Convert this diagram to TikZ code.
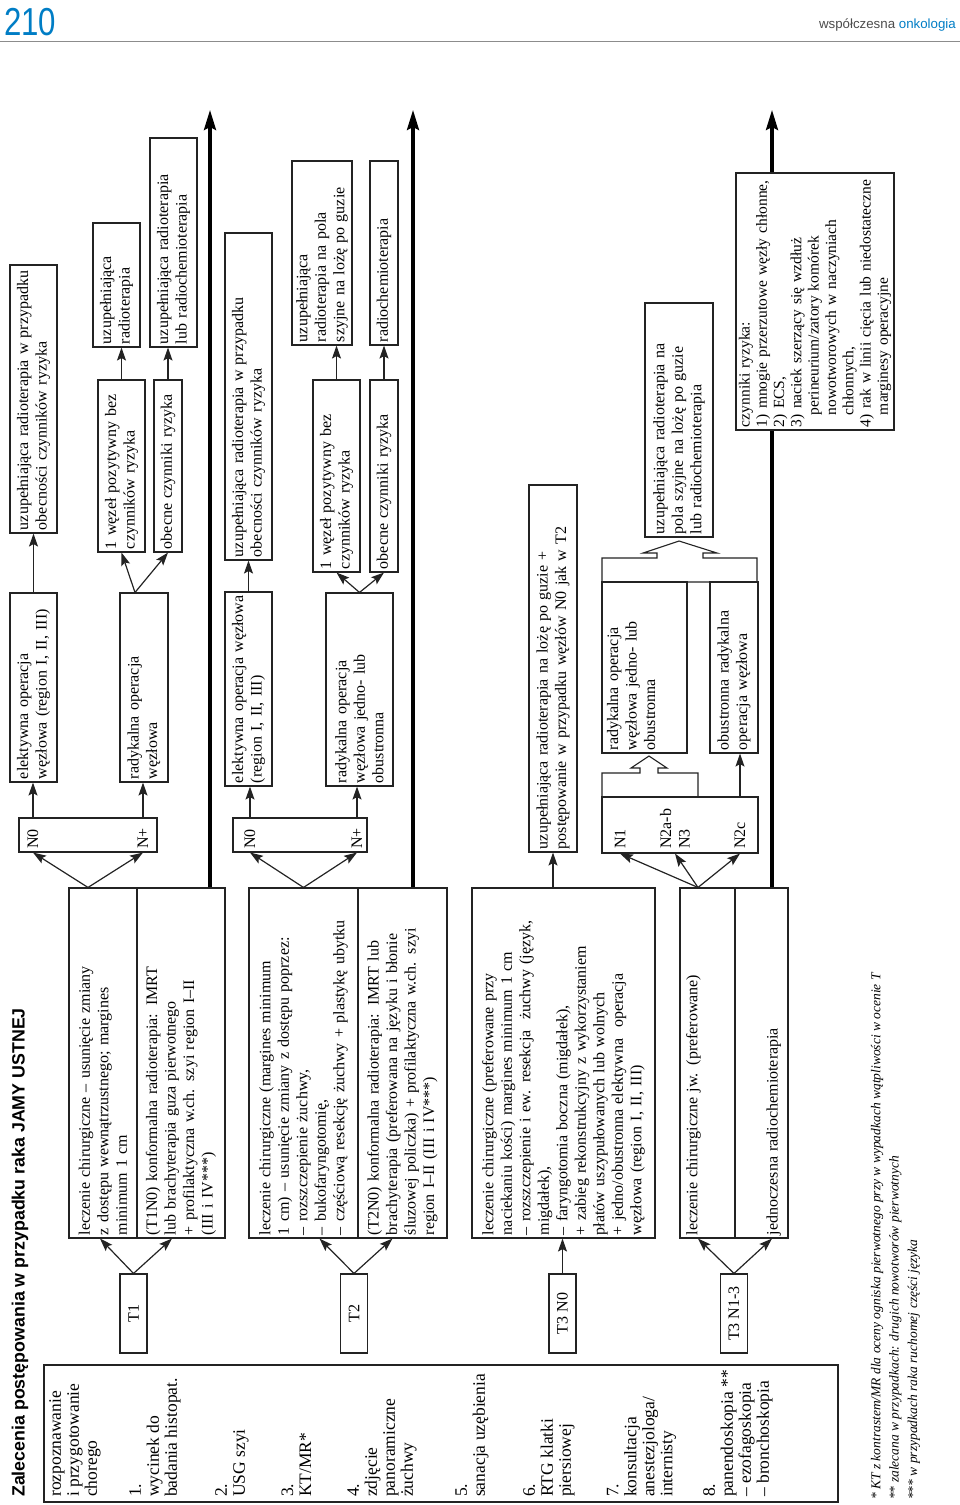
\documentclass[tikz,border=0pt]{standalone}
\usepackage{fontspec}
\setmainfont{Liberation Serif}
\newfontfamily\headsans{Liberation Sans}
\usetikzlibrary{arrows.meta}
\definecolor{onkoblue}{RGB}{0,125,197}
\definecolor{lineblack}{RGB}{35,35,35}
\newcommand{\boxfont}{\fontsize{16}{18.5}\selectfont}
\newcommand{\stepfont}{\fontsize{17.5}{18}\selectfont}

\tikzset{
  box/.style={draw=lineblack, line width=1.1pt, rotate=90, align=left,
    inner xsep=3pt, inner ysep=1pt, font=\boxfont},
  tbox/.style={box, align=center, minimum width=79pt, minimum height=27pt},
  nframe/.style={draw=lineblack, line width=1.1pt, inner sep=0pt},
  nlbl/.style={rotate=90, anchor=west, align=left, inner sep=0pt, font=\boxfont},
  stepitem/.style={rotate=90, anchor=west, align=left, inner sep=0pt, font=\stepfont},
  arr/.style={-{Stealth[length=13pt,width=9pt,inset=2.5pt]}, line width=1.2pt, lineblack},
  mainarr/.style={-{Stealth[length=20pt,width=12pt,inset=3pt]}, line width=3.2pt},
}

\begin{document}
\begin{tikzpicture}[x=1pt, y=-1pt]
\useasboundingbox (0,0) rectangle (960,1505);

% header
\node[anchor=south west, inner sep=0pt, xscale=0.8, text=onkoblue, font=\headsans\fontsize{39}{39}\selectfont] (strona) at (4,36) {210};
\node[anchor=south east, inner sep=0pt, font=\headsans\fontsize{13.3}{14}\selectfont] (pismo) at (956,31) {\textcolor{black!70}{współczesna} \textcolor{onkoblue}{onkologia}};
\draw[black!45, line width=0.8pt] (0,41) -- (960,41);

% title and preparation steps
\node[rotate=90, anchor=west, inner sep=0pt, font=\headsans\bfseries\fontsize{17.8}{18}\selectfont] (tytul) at (20,1497) {Zalecenia postępowania w przypadku raka JAMY USTNEJ};
\node[nframe, minimum width=794pt, minimum height=137pt] (przygot) at (441,1433.5) {};
\node[stepitem] (p0) at (75,1497) {rozpoznawanie\\i przygotowanie\\chorego};
\node[stepitem] (p1) at (155,1497) {1.\\wycinek do\\badania histopat.};
\node[stepitem] (p2) at (232,1497) {2.\\USG szyi};
\node[stepitem] (p3) at (296.5,1497) {3.\\KT/MR*};
\node[stepitem] (p4) at (382,1497) {4.\\zdjęcie\\panoramiczne\\żuchwy};
\node[stepitem] (p5) at (472,1497) {5.\\sanacja uzębienia};
\node[stepitem] (p6) at (549,1497) {6.\\RTG klatki\\piersiowej};
\node[stepitem] (p7) at (641.5,1497) {7.\\konsultacja\\anestezjologa/\\internisty};
\node[stepitem] (p8) at (738,1497) {8.\\panendoskopia **\\– ezofagoskopia\\– bronchoskopia};

% T1
\node[tbox] (t1) at (133.5,1313.5) {T1};
\node[box, text width=344pt, minimum height=68pt] (t1sur) at (103,1063) {leczenie chirurgiczne – usunięcie zmiany\\z dostępu wewnątrzustnego; margines\\minimum 1 cm};
\node[box, text width=344pt, minimum height=88pt] (t1rt) at (181,1063) {(T1N0) konformalna radioterapia: IMRT\\lub brachyterapia guza pierwotnego\\+ profilaktyczna w.ch. szyi region I–II\\(III i IV***)};
\node[nframe, minimum width=138pt, minimum height=34pt] (t1n) at (88,835) {};
\node[nlbl] (t1n0) at (33,849) {N0};
\node[nlbl] (t1np) at (143,849) {N+};
\node[box, text width=183pt, minimum height=47pt] (t1el) at (33.5,687.5) {elektywna operacja\\węzłowa (region I, II, III)};
\node[box, text width=183pt, minimum height=48pt] (t1rad) at (144,687.5) {radykalna operacja\\węzłowa};
\node[box, text width=262pt, minimum height=47pt] (t1risk0) at (33.5,399) {uzupełniająca radioterapia w przypadku\\obecności czynników ryzyka};
\node[box, text width=166pt, minimum height=47pt] (t1pos1) at (121.5,466) {1 węzeł pozytywny bez\\czynników ryzyka};
\node[box, text width=166pt, minimum height=28pt] (t1risk) at (168,466) {obecne czynniki ryzyka};
\node[box, text width=118pt, minimum height=47pt] (t1uzr) at (116.5,285) {uzupełniająca\\radioterapia};
\node[box, text width=203pt, minimum height=47pt] (t1uzrc) at (173.5,242.5) {uzupełniająca radioterapia\\lub radiochemioterapia};
\coordinate (t1koniec) at (210,110);

\draw[arr] (t1.east) -- ([xshift=-3pt]t1sur.west);
\draw[arr] (t1.east) -- ([xshift=-9pt]t1rt.west);
\draw[arr] ([xshift=-15pt]t1sur.east) -- (t1n0 |- t1n.south);
\draw[arr] ([xshift=-15pt]t1sur.east) -- (t1np |- t1n.south);
\draw[arr] (t1n0 |- t1n.north) -- (t1n0 |- t1el.west);
\draw[arr] (t1np |- t1n.north) -- (t1np |- t1rad.west);
\draw[arr] (t1el.east) -- (t1risk0.west);
\draw[arr] ([xshift=-9pt]t1rad.east) -- (t1pos1.west);
\draw[arr] ([xshift=-9pt]t1rad.east) -- (t1risk.west);
\draw[arr] (t1pos1.east) -- (t1pos1.east |- t1uzr.west);
\draw[arr] (t1risk.east) -- (t1risk.east |- t1uzrc.west);
\draw[mainarr] ([xshift=29pt]t1rt.east) -- (t1koniec);

% T2
\node[tbox] (t2) at (354,1313.5) {T2};
\node[box, text width=344pt, minimum height=109pt] (t2sur) at (303.5,1063) {leczenie chirurgiczne (margines minimum\\1 cm) – usunięcie zmiany z dostępu poprzez:\\– rozszczepienie żuchwy,\\– bukofaryngotomię,\\– częściową resekcję żuchwy + plastykę ubytku};
\node[box, text width=344pt, minimum height=89pt] (t2rt) at (402.5,1063) {(T2N0) konformalna radioterapia: IMRT lub\\brachyterapia (preferowana na języku i błonie\\śluzowej policzka) + profilaktyczna w.ch. szyi\\region I–II (III i IV***)};
\node[nframe, minimum width=134pt, minimum height=34pt] (t2n) at (300,835) {};
\node[nlbl] (t2n0) at (250,849) {N0};
\node[nlbl] (t2np) at (357,849) {N+};
\node[box, text width=188pt, minimum height=47pt] (t2el) at (248.5,689) {elektywna operacja węzłowa\\(region I, II, III)};
\node[box, text width=187pt, minimum height=67pt] (t2rad) at (359.5,689.5) {radykalna operacja\\węzłowa jedno- lub\\obustronna};
\node[box, text width=321pt, minimum height=47pt] (t2risk0) at (248.5,396.5) {uzupełniająca radioterapia w przypadku\\obecności czynników ryzyka};
\node[box, text width=186pt, minimum height=47pt] (t2pos1) at (336.5,476) {1 węzeł pozytywny bez\\czynników ryzyka};
\node[box, text width=186pt, minimum height=28pt] (t2risk) at (384,476) {obecne czynniki ryzyka};
\node[box, text width=178pt, minimum height=60pt] (t2uzp) at (322,253) {uzupełniająca\\radioterapia na pola\\szyjne na lożę po guzie};
\node[box, text width=178pt, minimum height=28pt] (t2rch) at (384,253) {radiochemioterapia};
\coordinate (t2koniec) at (413,110);

\draw[arr] (t2.east) -- ([xshift=16pt]t2sur.west);
\draw[arr] (t2.east) -- ([xshift=-10pt]t2rt.west);
\draw[arr] (t2sur.east) -- (t2n0 |- t2n.south);
\draw[arr] (t2sur.east) -- (t2np |- t2n.south);
\draw[arr] (t2n0 |- t2n.north) -- (t2n0 |- t2el.west);
\draw[arr] (t2np |- t2n.north) -- (t2np |- t2rad.west);
\draw[arr] (t2el.east) -- (t2risk0.west);
\draw[arr] (t2rad.east) -- (t2pos1.west);
\draw[arr] (t2rad.east) -- (t2risk.west);
\draw[arr] (t2pos1.east) -- (t2pos1.east |- t2uzp.west);
\draw[arr] (t2risk.east) -- (t2rch.west);
\draw[mainarr] ([xshift=10.5pt]t2rt.east) -- (t2koniec);

% T3 N0
\node[tbox] (t3a) at (562.5,1313.5) {T3 N0};
\node[box, text width=344pt, minimum height=183pt] (t3asur) at (563.5,1063) {leczenie chirurgiczne (preferowane przy\\naciekaniu kości) margines minimum 1 cm\\– rozszczepienie i ew. resekcja \ żuchwy (język,\\migdałek),\\– faryngotomia boczna (migdałek),\\+ zabieg rekonstrukcyjny z wykorzystaniem\\płatów uszypułowanych lub wolnych\\+ jedno/obustronna elektywna \ operacja\\węzłowa (region I, II, III)};
\node[box, text width=361pt, minimum height=48pt] (t3aft) at (553,668.5) {uzupełniająca radioterapia na lożę po guzie +\\postępowanie w przypadku węzłów N0 jak w T2};

\draw[arr] (t3a.east) -- (t3a.east |- t3asur.west);
\draw[arr] (t3asur.east -| t3aft) -- (t3aft.west);

% T3 N1-3
\node[tbox] (t3b) at (734,1313.5) {T3 N1-3};
\node[box, text width=344pt, minimum height=55pt] (t3bsur) at (707.5,1063) {\parbox[c][51pt][t]{344pt}{\vspace*{4pt}leczenie chirurgiczne jw. (preferowane)}};
\node[box, text width=344pt, minimum height=53pt] (t3brt) at (761.5,1063) {\parbox[c][49pt][b]{344pt}{jednoczesna radiochemioterapia\par\vspace*{5pt}}};
\node[nframe, minimum width=156pt, minimum height=56pt] (t3n) at (680,825) {};
\node[nlbl] (t3n1) at (620,849) {N1};
\node[nlbl] (t3n2) at (675,849) {N2a-b\\N3};
\node[nlbl] (t3n2c) at (740,849) {N2c};
\node[box, text width=165pt, minimum height=85pt] (t3rad) at (644.5,667.5) {\parbox[c][81pt][t]{165pt}{\vspace*{3pt}radykalna operacja\\węzłowa jedno- lub\\obustronna}};
\node[box, text width=165pt, minimum height=48pt] (t3obu) at (734,667.5) {obustronna radykalna\\operacja węzłowa};
\node[box, text width=228pt, minimum height=68pt] (t3uz) at (679,420) {uzupełniająca radioterapia na\\pola szyjne na lożę po guzie\\lub radiochemioterapia};
\coordinate (t3koniec) at (772,110);

\draw[arr] (t3b.east) -- ([xshift=-9.5pt]t3bsur.west);
\draw[arr] (t3b.east) -- ([xshift=10.5pt]t3brt.west);
\draw[arr] ([xshift=-9.5pt]t3bsur.east) -- (t3n1 |- t3n.south);
\draw[arr] ([xshift=-9.5pt]t3bsur.east) -- (t3n2 |- t3n.south);
\draw[arr] ([xshift=-9.5pt]t3bsur.east) -- (t3n2c |- t3n.south);
\draw[arr] (t3n2c |- t3n.north) -- (t3n2c |- t3obu.west);
% collecting brackets with block arrow heads
\draw[lineblack, line width=1.1pt] (602,797) -- (602,773) -- (640,773) -- (640,768) -- (631,768) -- (649,756)
  -- (667,768) -- (658,768) -- (658,773) -- (698,773) -- (698,797);
\draw[lineblack, line width=1.1pt] (602,582) -- (602,558) -- (657,558) -- (657,553) -- (643,553) -- (679,541)
  -- (717,553) -- (703,553) -- (703,558) -- (757,558) -- (757,582) -- cycle;
\draw[mainarr] ([xshift=10.5pt]t3brt.east) -- (t3koniec);

\node[box, fill=white, text width=251pt, minimum height=158pt, font=\fontsize{15.5}{17.3}\selectfont] (czyn) at (815,301.5) {czynniki ryzyka:\\1) mnogie przerzutowe węzły chłonne,\\2) ECS,\\3) naciek szerzący się wzdłuż\\\hspace*{12pt}perineurium/zatory komórek\\\hspace*{12pt}nowotworowych w naczyniach\\\hspace*{12pt}chłonnych,\\4) rak w linii cięcia lub niedostateczne\\\hspace*{12pt}marginesy operacyjne};

% footnotes
\node[rotate=90, anchor=west, align=left, inner sep=0pt, font=\itshape\fontsize{13.5}{18.3}\selectfont] (przypisy) at (895.5,1500) {* KT z kontrastem/MR dla oceny ogniska pierwotnego przy w wypadkach wątpliwości w ocenie T\\** zalecana w przypadkach: drugich nowotworów pierwotnych\\*** w przypadkach raka ruchomej części języka};
\end{tikzpicture}
\end{document}
